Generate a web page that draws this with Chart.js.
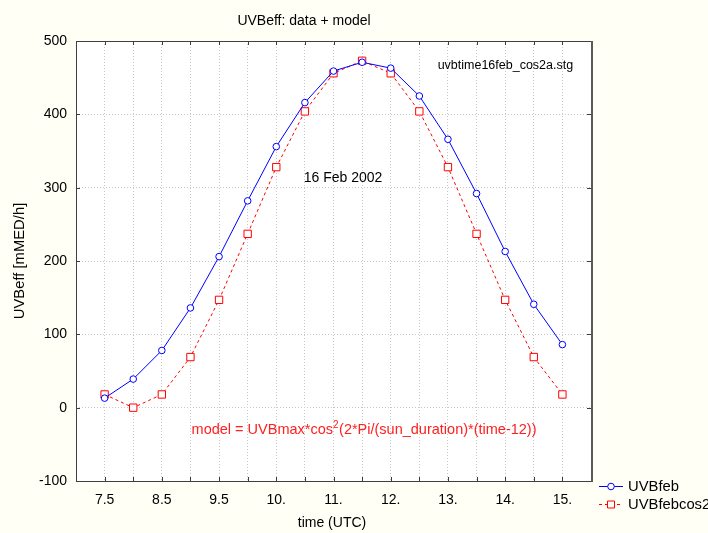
<!DOCTYPE html>
<html>
<head>
<meta charset="utf-8">
<script src="https://cdn.jsdelivr.net/npm/chart.js@4.4.0/dist/chart.umd.min.js"></script>
<style>
  html, body { margin: 0; padding: 0; background: #fffff6; }
  #wrap { width: 708px; height: 533px; }
</style>
</head>
<body>
<div id="wrap"><canvas id="chart" width="708" height="533"></canvas></div>
<script>
    "use strict";

    // data
    const times = [7.5, 8, 8.5, 9, 9.5, 10, 10.5, 11, 11.5, 12, 12.5, 13, 13.5, 14, 14.5, 15, 15.5];
    const uvbFeb = [13, 39, 78, 136, 206, 282, 356, 416, 459, 471, 463, 425, 366, 292, 213, 141, 86];
    const uvbFebCos2 = [18, 0, 18, 69, 147, 237, 328, 404, 456, 473, 456, 404, 328, 237, 147, 69, 18];
    const tickValues = [7.5, 8.5, 9.5, 10.5, 11.5, 12.5, 13.5, 14.5, 15.5];
    const tickLabels = ["7.5", "8.5", "9.5", "10.", "11.", "12.", "13.", "14.", "15."];
    const seriesNames = ["UVBfeb", "UVBfebcos2"];

    const FONT = '"Liberation Sans", Arial, sans-serif';
    const BLUE = "#0000ff";
    const RED = "#ff0000";

    function toPoints(ys) {
        return times.map(function (t, i) { return { x: t, y: ys[i] }; });
    }

    // frame, inward ticks, texts and legend
    const decor = {
        id: "decor",
        beforeDraw: function (chart) {
            const ctx = chart.ctx;
            const a = chart.chartArea;
            ctx.save();
            ctx.fillStyle = "#fffff6";
            ctx.fillRect(0, 0, chart.width, chart.height);
            ctx.fillStyle = "#ffffff";
            ctx.fillRect(a.left, a.top, a.right - a.left, a.bottom - a.top);
            ctx.restore();
        },
        beforeDatasetsDraw: function (chart) {
            const ctx = chart.ctx;
            const a = chart.chartArea;
            const xs = chart.scales.x;
            const ys = chart.scales.y;
            ctx.save();
            ctx.strokeStyle = "#3c3c3c";
            ctx.lineWidth = 1;
            ctx.beginPath();
            xs.ticks.forEach(function (t) {
                const px = Math.round(xs.getPixelForValue(t.value)) + 0.5;
                ctx.moveTo(px, a.bottom); ctx.lineTo(px, a.bottom - 4);
                ctx.moveTo(px, a.top); ctx.lineTo(px, a.top + 4);
            });
            ys.ticks.forEach(function (t) {
                const py = Math.round(ys.getPixelForValue(t.value)) + 0.5;
                ctx.moveTo(a.left, py); ctx.lineTo(a.left + 4, py);
                ctx.moveTo(a.right, py); ctx.lineTo(a.right - 4, py);
            });
            ctx.stroke();
            ctx.strokeStyle = "#404040";
            ctx.beginPath();
            ctx.moveTo(a.left + 0.5, a.top + 0.5);
            ctx.lineTo(a.right, a.top + 0.5);
            ctx.moveTo(a.left + 0.5, a.top);
            ctx.lineTo(a.left + 0.5, a.bottom + 0.5);
            ctx.lineTo(a.right, a.bottom + 0.5);
            ctx.stroke();
            ctx.strokeStyle = "#5a5a5a";
            ctx.lineWidth = 2;
            ctx.beginPath();
            ctx.moveTo(a.right + 1, a.top);
            ctx.lineTo(a.right + 1, a.bottom + 1);
            ctx.stroke();
            ctx.restore();
        },
        afterDraw: function (chart) {
            const ctx = chart.ctx;
            const xs = chart.scales.x;
            const ys = chart.scales.y;
            ctx.save();
            ctx.fillStyle = "#000";
            ctx.textBaseline = "middle";

            // title
            ctx.font = "14px " + FONT;
            ctx.textAlign = "center";
            ctx.fillText("UVBeff: data + model", 304, 21);

            // axis titles
            ctx.fillText("time (UTC)", 332, 523);
            ctx.save();
            ctx.translate(20, 261);
            ctx.rotate(-Math.PI / 2);
            ctx.font = "14.8px " + FONT;
            ctx.fillText("UVBeff [mMED/h]", 0, 0);
            ctx.restore();

            // annotations placed in data units
            ctx.textAlign = "left";
            ctx.font = "12.5px " + FONT;
            ctx.fillText("uvbtime16feb_cos2a.stg", xs.getPixelForValue(13.32), ys.getPixelForValue(466));
            ctx.font = "14px " + FONT;
            ctx.fillText("16 Feb 2002", xs.getPixelForValue(10.98), ys.getPixelForValue(313));

            ctx.fillStyle = "#ff2020";
            ctx.font = "14.5px " + FONT;
            let mx = xs.getPixelForValue(9.02);
            const my = ys.getPixelForValue(-31);
            const part1 = "model = UVBmax*cos";
            ctx.fillText(part1, mx, my);
            mx += ctx.measureText(part1).width;
            ctx.font = "10px " + FONT;
            ctx.fillText("2", mx, my - 5);
            mx += ctx.measureText("2").width + 0.5;
            ctx.font = "14.5px " + FONT;
            ctx.fillText("(2*Pi/(sun_duration)*(time-12))", mx, my);

            // legend
            const items = [
                { y: 486, color: BLUE, dash: [], style: "circle" },
                { y: 504, color: RED, dash: [3, 3], style: "rect" }
            ];
            items.forEach(function (it, i) {
                ctx.strokeStyle = it.color;
                ctx.lineWidth = 1;
                ctx.setLineDash(it.dash);
                ctx.beginPath();
                ctx.moveTo(599, it.y + 0.5);
                ctx.lineTo(623, it.y + 0.5);
                ctx.stroke();
                ctx.setLineDash([]);
                ctx.fillStyle = "#fffff6";
                ctx.beginPath();
                if (it.style === "circle") {
                    ctx.arc(611, it.y + 0.5, 3.3, 0, Math.PI * 2);
                } else {
                    ctx.rect(607.5, it.y - 3, 7, 7);
                }
                ctx.fill();
                ctx.stroke();
                ctx.fillStyle = "#000";
                ctx.font = "14.8px " + FONT;
                ctx.fillText(seriesNames[i], 628, it.y + 1);
            });
            ctx.restore();
        }
    };

    const ctx = document.getElementById("chart").getContext("2d");
    const myChart = new Chart(ctx, {
        type: "line",
        data: {
            datasets: [
                {
                    label: seriesNames[0],
                    data: toPoints(uvbFeb),
                    borderColor: BLUE,
                    borderWidth: 1,
                    pointStyle: "circle",
                    pointRadius: 3.3,
                    pointBorderWidth: 1,
                    pointBorderColor: BLUE,
                    pointBackgroundColor: "#ffffff",
                    tension: 0,
                    order: 0
                },
                {
                    label: seriesNames[1],
                    data: toPoints(uvbFebCos2),
                    borderColor: RED,
                    borderWidth: 1,
                    borderDash: [3, 3],
                    pointStyle: "rect",
                    pointRadius: 5.2,
                    pointBorderWidth: 1,
                    pointBorderColor: RED,
                    pointBackgroundColor: "#ffffff",
                    tension: 0,
                    order: 1
                }
            ]
        },
        options: {
            responsive: false,
            animation: false,
            layout: { padding: { left: 0, top: 41, right: 117, bottom: 0 } },
            plugins: {
                legend: { display: false },
                title: { display: false },
                tooltip: { enabled: false }
            },
            scales: {
                x: {
                    type: "linear",
                    min: 7,
                    max: 16,
                    afterFit: function (scale) { scale.height = 52; },
                    ticks: {
                        stepSize: 0.5,
                        autoSkip: false,
                        maxRotation: 0,
                        padding: 11,
                        color: "#000",
                        font: { size: 14, family: FONT },
                        callback: function (value) {
                            const i = tickValues.indexOf(value);
                            return i >= 0 ? tickLabels[i] : "";
                        }
                    },
                    grid: { color: "#c8c8c8", lineWidth: 1, drawTicks: false },
                    border: { display: false, dash: [1, 2] }
                },
                y: {
                    min: -100,
                    max: 500,
                    afterFit: function (scale) { scale.width = 76; },
                    ticks: {
                        stepSize: 100,
                        padding: 9,
                        color: "#000",
                        font: { size: 14, family: FONT }
                    },
                    grid: { color: "#c8c8c8", lineWidth: 1, drawTicks: false },
                    border: { display: false, dash: [1, 2] }
                }
            }
        },
        plugins: [decor]
    });
</script>
</body>
</html>
